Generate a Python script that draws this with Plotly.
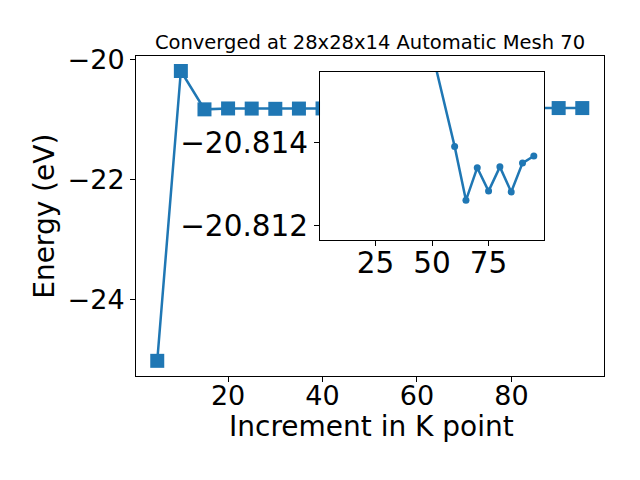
import plotly.graph_objects as go

# K-point increments and total energies (eV)
kpoints = [5, 10, 15, 20, 25, 30, 35, 40, 45, 50, 60, 65, 70, 75, 80, 85, 90, 95]
energy = [-25.03, -20.195, -20.835, -20.82, -20.822, -20.826, -20.822, -20.82, -20.818, -20.81617,
          -20.81390, -20.81261, -20.81339, -20.81283, -20.81341, -20.81281, -20.81350, -20.81367]
inset_start_k = 50

title_text = "Converged at 28x28x14 Automatic Mesh 70"
x_label = "Increment in K point"
y_label = "Energy (eV)"

inset_idx = kpoints.index(inset_start_k)
inset_k = kpoints[inset_idx:]
inset_e = energy[inset_idx:]

BLUE = "#1f77b4"
FONT = "DejaVu Sans"

fig = go.Figure()
fig.add_trace(go.Scatter(x=kpoints, y=energy, mode="lines+markers",
                         line=dict(color=BLUE, width=2.5),
                         marker=dict(symbol="square", size=14, color=BLUE),
                         xaxis="x", yaxis="y", showlegend=False))
fig.add_trace(go.Scatter(x=inset_k, y=inset_e, mode="lines+markers",
                         line=dict(color=BLUE, width=2.5),
                         marker=dict(symbol="circle", size=7, color=BLUE),
                         xaxis="x2", yaxis="y2", showlegend=False))

axis_common = dict(showgrid=False, zeroline=False, showline=True, mirror=True,
                   linecolor="black", linewidth=1, ticks="outside", ticklen=5,
                   tickwidth=1, tickcolor="black")

# page body has an 8px offset; margins account for it
fig.update_layout(
    width=640, height=480,
    margin=dict(l=128, r=44, t=48, b=112),
    paper_bgcolor="white", plot_bgcolor="white",
    font=dict(family=FONT, color="black"),
    title=dict(text=title_text, x=0.5, xref="paper", y=1 - 34 / 480, yref="container",
               xanchor="center", yanchor="middle", font=dict(size=19.5, family=FONT)),
    xaxis=dict(domain=[0, 1], range=[0.5, 99.6], dtick=20, tick0=0, ticklabelstandoff=-9,
               tickfont=dict(size=27, family=FONT), **axis_common),
    yaxis=dict(domain=[0, 1], range=[-25.283, -19.945], dtick=2, tick0=0,
               tickfont=dict(size=27, family=FONT), **axis_common),
    xaxis2=dict(domain=[0.3932, 0.8718], anchor="y2", range=[0.5, 99.5], dtick=25, tick0=0,
                ticklabelstandoff=-8,
                tickfont=dict(size=29.5, family=FONT), **axis_common),
    yaxis2=dict(domain=[0.425, 0.95], anchor="x2", range=[-20.81166, -20.81568],
                dtick=0.002, tick0=0, tickformat=".3f",
                tickfont=dict(size=29.5, family=FONT), **axis_common),
    annotations=[
        dict(text=x_label, xref="paper", yref="paper", x=0.504, y=-0.158,
             xanchor="center", yanchor="middle", showarrow=False,
             font=dict(size=28, family=FONT)),
        dict(text=y_label, xref="paper", yref="paper", x=-0.197, y=0.5,
             xanchor="center", yanchor="middle", showarrow=False, textangle=-90,
             font=dict(size=28, family=FONT)),
    ],
)

fig.write_html("out.html")
